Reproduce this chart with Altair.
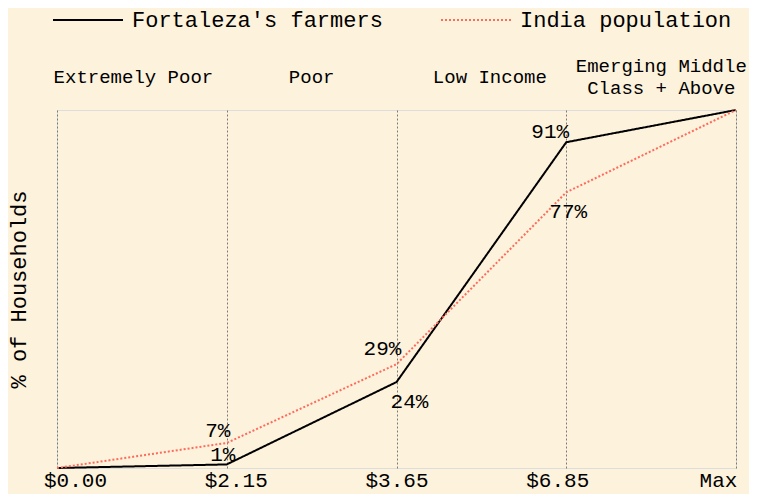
import altair as alt
import pandas as pd

# ---- data ----
tick_labels = ["$0.00", "$2.15", "$3.65", "$6.85", "Max"]
series_names = ["Fortaleza's farmers", "India population"]
fortaleza = [0, 1, 24, 91, 100]
india = [0, 7, 29, 77, 100]
categories = ["Extremely Poor", "Poor", "Low Income", "Emerging Middle\nClass + Above"]
category_x = [0.45, 1.5, 2.55, 3.56]

# ---- style ----
FONT = "Liberation Mono"
BG = "#fdf2dc"
RED = "#ff6a5c"
GRID = "#7a7a7a"

rows = []
for name, vals in zip(series_names, [fortaleza, india]):
    for i, v in enumerate(vals):
        rows.append({"x": i, "pct": v, "series": name, "label": f"{v}%"})
df = pd.DataFrame(rows)

cat_df = pd.DataFrame({"cx": category_x, "cat": categories})
cat_df["cy"] = [-33 - 11 * c.count("\n") for c in categories]

x_scale = alt.Scale(domain=[0, 4], nice=False, zero=False)
y_scale = alt.Scale(domain=[0, 100], nice=False)

label_expr = "[" + ",".join(f"'{t}'" for t in tick_labels) + "][datum.value]"

x_enc = alt.X(
    "x:Q",
    scale=x_scale,
    axis=alt.Axis(
        values=[0, 1, 2, 3, 4],
        labelExpr=label_expr,
        title=None,
        grid=True,
        gridDash=[2, 2],
        gridColor=GRID,
        gridWidth=1,
        domain=False,
        ticks=False,
        labelFontSize=21,
        labelFont=FONT,
        labelColor="#000",
        labelPadding=1,
        labelFlush=False,
        labelOffset=alt.ExprRef("(2 - datum.value) * 9"),
    ),
)
y_enc = alt.Y(
    "pct:Q",
    scale=y_scale,
    axis=alt.Axis(
        title="% of Households",
        labels=False,
        ticks=False,
        domain=False,
        grid=False,
        titleFontSize=22,
        titleFont=FONT,
        titleFontWeight="normal",
        titleColor="#000",
        titlePadding=27,
    ),
)

lines = alt.Chart(df).mark_line(strokeWidth=2).encode(
    x=x_enc,
    y=y_enc,
    color=alt.Color(
        "series:N",
        scale=alt.Scale(domain=series_names, range=["#000000", RED]),
        legend=alt.Legend(
            title=None,
            orient="none",
            legendX=-5,
            legendY=-126,
            direction="horizontal",
            symbolType="stroke",
            symbolSize=4900,
            symbolStrokeWidth=2,
            labelFontSize=22,
            labelFont=FONT,
            labelColor="#000",
            labelOffset=8,
            labelLimit=0,
            columnPadding=54,
        ),
    ),
    strokeDash=alt.StrokeDash(
        "series:N",
        scale=alt.Scale(domain=series_names, range=[[1, 0], [2, 2]]),
        legend=None,
    ),
    order=alt.Order("x:Q"),
)

offsets = {
    ("Fortaleza's farmers", 1): (-4, -9),
    ("Fortaleza's farmers", 2): (13, 20),
    ("Fortaleza's farmers", 3): (-16, -10),
    ("India population", 1): (-9, -12),
    ("India population", 2): (-14, -15),
    ("India population", 3): (2, 20),
}

label_layers = []
for (s, xi), (dx, dy) in offsets.items():
    label_layers.append(
        alt.Chart(df)
        .transform_filter((alt.datum.series == s) & (alt.datum.x == xi))
        .mark_text(font=FONT, fontSize=21, color="#000", dx=dx, dy=dy,
                   align="center", baseline="middle")
        .encode(x=alt.X("x:Q", scale=x_scale), y=alt.Y("pct:Q", scale=y_scale), text="label:N")
    )

cats = alt.Chart(cat_df).mark_text(
    font=FONT, fontSize=19, color="#000", align="center", baseline="middle",
    lineBreak="\n", lineHeight=22,
).encode(
    x=alt.X("cx:Q", scale=x_scale),
    y=alt.Y("cy:Q", scale=None),
    text="cat:N",
)

chart = alt.layer(lines, *label_layers, cats).properties(
    width=679,
    height=358,
    background=BG,
    autosize=alt.AutoSizeParams(type="none"),
    padding={"left": 49, "top": 102, "right": 13, "bottom": 26},
).configure_view(
    stroke=GRID,
    strokeDash=[2, 2],
    strokeWidth=1,
).configure(
    font=FONT,
)

chart.save("out.html", embed_options={"renderer": "svg", "actions": False})
